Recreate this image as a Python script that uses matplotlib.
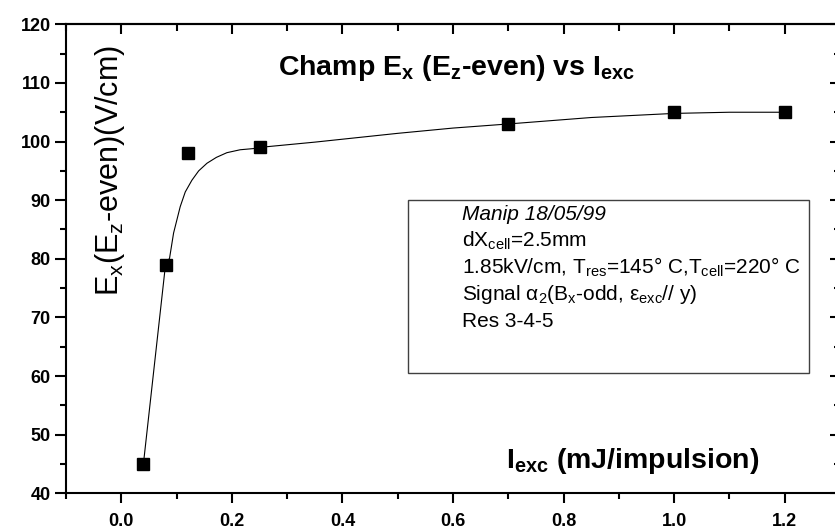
import matplotlib
matplotlib.use("Agg")
import matplotlib.pyplot as plt
from matplotlib.ticker import MultipleLocator
from matplotlib.patches import Rectangle

plt.rcParams['font.family'] = ['Liberation Sans', 'DejaVu Sans']
plt.rcParams['mathtext.fontset'] = 'custom'
plt.rcParams['mathtext.rm'] = 'Liberation Sans'
plt.rcParams['mathtext.it'] = 'Liberation Sans:italic'
plt.rcParams['mathtext.bf'] = 'Liberation Sans:bold'

# measured points
I_exc = [0.04, 0.08, 0.12, 0.25, 0.70, 1.00, 1.20]
E_x = [45, 79, 98, 99, 103, 105, 105]

# fitted curve
curve_x = [0.04, 0.08, 0.0873, 0.0946, 0.1066, 0.1157, 0.1277, 0.14, 0.155, 0.172,
           0.191, 0.215, 0.239, 0.25, 0.35, 0.50, 0.60, 0.70, 0.85, 1.00, 1.10, 1.20]
curve_y = [45, 79, 80.1, 84.4, 88.9, 91.4, 93.4, 95.0, 96.3, 97.3,
           98.1, 98.6, 98.8, 99.0, 99.9, 101.4, 102.3, 103.0, 104.1, 104.8, 105.0, 105.0]

xticks = [0.0, 0.2, 0.4, 0.6, 0.8, 1.0, 1.2]
yticks = [40, 50, 60, 70, 80, 90, 100, 110, 120]

W, H = 835, 531
fig = plt.figure(figsize=(W/100, H/100), dpi=100)
ax = fig.add_axes([66/W, (H-493.3)/H, 774/W, 469/H])
ax.set_xlim(-0.1, 1.3)
ax.set_ylim(40, 120)

ax.plot(curve_x, curve_y, color='black', lw=0.8, zorder=2)
ax.plot(I_exc, E_x, ls='none', marker='s', ms=8.5, color='black', zorder=3)

for s in ax.spines.values():
    s.set_linewidth(1.5)

ax.set_xticks(xticks)
ax.set_yticks(yticks)
ax.set_xticklabels([f"{v:.1f}" for v in xticks])
ax.set_yticklabels([str(v) for v in yticks])
ax.xaxis.set_minor_locator(MultipleLocator(0.1))
ax.yaxis.set_minor_locator(MultipleLocator(5))

ax.tick_params(axis='both', which='major', labelsize=13, width=1.5)
ax.tick_params(axis='both', which='minor', width=1.5)
ax.tick_params(axis='x', which='major', direction='out', length=7, pad=7, top=False)
ax.tick_params(axis='x', which='minor', direction='out', length=4, top=False)
ax.tick_params(axis='y', which='major', direction='out', length=8, pad=3, right=False)
ax.tick_params(axis='y', which='minor', direction='out', length=4, right=False)
for lab in ax.get_xticklabels() + ax.get_yticklabels():
    lab.set_fontweight('bold')

# top and right inward ticks
sec_x = ax.secondary_xaxis('top')
sec_x.set_xticks(xticks)
sec_x.xaxis.set_minor_locator(MultipleLocator(0.1))
sec_x.tick_params(which='major', direction='in', length=7, width=1.5, labeltop=False)
sec_x.tick_params(which='minor', direction='in', length=5, width=1.5)
sec_x.spines['top'].set_linewidth(1.5)
sec_y = ax.secondary_yaxis('right')
sec_y.set_yticks(yticks)
sec_y.yaxis.set_minor_locator(MultipleLocator(5))
sec_y.tick_params(which='major', direction='in', length=7, width=1.5, labelright=False)
sec_y.tick_params(which='minor', direction='in', length=4, width=1.5)

# title inside the plot
ax.text(0.607, 111.3, r"Champ E$_\mathbf{x}$ (E$_\mathbf{z}$-even) vs I$_\mathbf{exc}$",
        fontsize=20.5, fontweight='bold', ha='center', va='baseline')

# y label
fig.text(110/W, 1-171/H, r"E$_\mathrm{x}$(E$_\mathrm{z}$-even)(V/cm)", rotation=90,
         fontsize=22, ha='center', va='center')

# x label
ax.text(0.925, 44.4, r"I$_\mathbf{exc}$ (mJ/impulsion)", fontsize=20.5,
        fontweight='bold', ha='center', va='baseline')

# info box
def px2data(px, py):
    x = -0.1 + (px - 66) / 553.3
    y = 120 - (py - 24.3) * 80 / 469
    return x, y

x0, y0 = px2data(408.3, 373.3)
x1, y1 = px2data(810, 200)
ax.add_patch(Rectangle((x0, y0), x1 - x0, y1 - y0, fill=False, ec='#404040', lw=1.0, zorder=1))

lines = [
    ("Manip 18/05/99", 220, 'italic'),
    (r"dX$_\mathrm{cell}$=2.5mm", 247, 'normal'),
    (r"1.85kV/cm, T$_\mathrm{res}$=145° C,T$_\mathrm{cell}$=220° C", 274, 'normal'),
    (r"Signal α$_\mathrm{2}$(B$_\mathrm{x}$-odd, ε$_\mathrm{exc}$// y)", 300, 'normal'),
    ("Res 3-4-5", 327, 'normal'),
]
for t, py, st in lines:
    tx, ty = px2data(462, py)
    ax.text(tx, ty, t, fontsize=15, ha='left', va='baseline', fontstyle=st)

fig.savefig("out.png", dpi=100)
